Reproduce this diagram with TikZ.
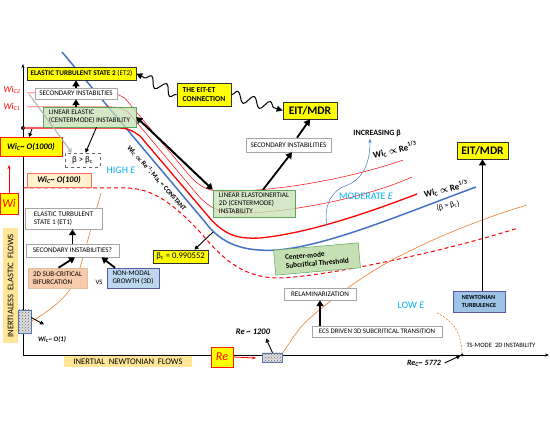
\documentclass[tikz,border=0pt]{standalone}
\usepackage{fontspec}
\setmainfont{Carlito}
\usetikzlibrary{arrows.meta,patterns,decorations.pathmorphing}
\definecolor{ylw}{RGB}{255,255,0}
\definecolor{lightylw}{RGB}{255,242,204}
\definecolor{boxgreen}{RGB}{197,224,180}
\definecolor{boxblue}{RGB}{189,215,238}
\definecolor{boxblue2}{RGB}{157,195,230}
\definecolor{boxpeach}{RGB}{248,203,173}
\definecolor{labelorange}{RGB}{255,230,153}
\definecolor{lineblue}{RGB}{68,114,196}
\definecolor{skyblue}{RGB}{0,176,240}
\definecolor{lineorange}{RGB}{237,125,49}

\begin{document}
\begin{tikzpicture}[x=1pt,y=-1pt,
    box/.style ={draw=gray!80!black, line width=0.5pt, inner sep=1pt, align=left,
                 font=\fontsize{7.1}{7.9}\selectfont},
    plainbox/.style ={box, fill=white, draw=gray!70},
    yellowbox/.style ={box, fill=ylw, draw=gray!40!black, line width=0.7pt},
    greenbox/.style ={box, fill=boxgreen, fill opacity=0.75, text opacity=1, draw=green!30!gray},
    bluebox/.style ={box, fill=boxblue, draw=blue!30!gray},
    redbordered/.style ={box, fill=ylw, draw=red!80!orange, line width=0.7pt},
    flowlabel/.style ={fill=labelorange, inner sep=1pt, font=\fontsize{8.6}{10}\selectfont},
    hatched/.style ={draw=lineblue!70!gray, inner sep=0pt, preaction={fill=gray!25},
                     pattern=crosshatch dots, pattern color=gray!80!black},
    regime/.style ={text=skyblue, font=\fontsize{10}{11}\selectfont},
    scaling/.style ={font=\bfseries\boldmath\fontsize{9}{10}\selectfont},
    bigarrow/.style ={line width=1.8pt, -{Triangle[length=6pt,width=7pt]}},
    smallarrow/.style ={line width=0.9pt, -{Triangle[length=4pt,width=4pt]}},
    wave/.style ={line width=1pt, decorate,
                  decoration={snake, amplitude=5pt, segment length=17pt, post length=6pt},
                  -{Triangle[length=6pt,width=6pt]}}]
   \useasboundingbox (0,0) rectangle (550,425);

   \coordinate (O) at (23,355);
   \coordinate (WI0) at (23,128);
   \coordinate (WC2P) at (29,94);
   \coordinate (WITOP) at (9,165);
   \coordinate (REEND) at (256,358);
   \coordinate (BLUEPT) at (213,232);

   \draw[line width=0.8pt, -{Stealth[length=4pt]}] (O) -- (23,64);
   \draw[line width=0.8pt, -{Stealth[length=4pt]}] (O) -- (549,355);
   \fill (WI0) circle (2pt);

   \draw[lineblue, line width=1.5pt] (62,52) -- (205,222) .. controls (222,245) and (245,252) .. (278,250)
        .. controls (330,245) and (400,215) .. (476,187);
   \draw[red, line width=1.3pt] (WI0) -- (118,128) .. controls (128,128) and (133,131) .. (140,136)
        -- (208,216) .. controls (225,236) and (238,239) .. (260,238) .. controls (310,233) and (370,212) .. (417,194);
   \draw[red, line width=0.5pt] (27,107) -- (112,107) .. controls (120,107) and (123,109) .. (128,112)
        -- (196,193) .. controls (212,212) and (225,214) .. (248,213) .. controls (300,211) and (370,196) .. (412,177);
   \draw[red, line width=0.5pt] (27,93) -- (110,93) .. controls (116,93) and (119,95) .. (124.7,98)
        -- (189,175) .. controls (205,194) and (220,192) .. (242,191) .. controls (300,188) and (360,175) .. (403,160);
   \draw[red, line width=1pt, dash pattern=on 4pt off 3pt] (23,188) -- (125,188) .. controls (150,188) and (170,200) .. (200,232)
        .. controls (225,262) and (245,278) .. (280,278) .. controls (330,276) and (450,250) .. (518,228);
   \draw[lineblue, line width=0.5pt, -{Stealth[length=4pt]}] (327,225) .. controls (323,205) and (333,190) .. (345,186)
        .. controls (362,180) and (370,165) .. (370,139);

   \node[hatched, minimum width=13pt, minimum height=23pt] (WIO1) at (24.5,321.5) {};
   \node[hatched, minimum width=20pt, minimum height=9pt] (RE1200) at (272.5,357.5) {};
   \draw[lineorange, line width=0.6pt] (WIO1.east) .. controls (55,308) and (72,292) .. (78,275) -- (101,193);
   \draw[lineorange, line width=0.6pt] (RE1200.north east) .. controls (292,340) and (298,328) .. (310,318)
        .. controls (340,292) and (365,275) .. (392,260) .. controls (420,245) and (470,222) .. (527,205);
   \draw[lineorange, line width=0.6pt, dash pattern=on 2pt off 1.5pt] (437,313) .. controls (455,322) and (462,335) .. (462,355);

   \node[yellowbox, minimum width=109pt, minimum height=13pt, font=\fontsize{7.2}{8}\selectfont] (ET2) at (81.5,73.5) {\textbf{ELASTIC TURBULENT STATE 2} (ET2)};
   \node[plainbox, minimum width=82pt, minimum height=11pt] (SEC1) at (76,93.5) {SECONDARY INSTABILTIES};
   \node[greenbox, minimum width=93pt, minimum height=20pt] (LINEL) at (89.5,117) {LINEAR ELASTIC\\(CENTERMODE) INSTABILITY};
   \node[box, dashed, fill=white, minimum width=35pt, minimum height=14pt, font=\fontsize{8.8}{9}\selectfont] (BGT) at (82.5,160) {β > β\textsubscript{c}};
   \node[redbordered, minimum width=62pt, minimum height=19pt, font=\bfseries\itshape\fontsize{8.5}{10}\selectfont] (O1000) at (31,147) {Wi\textsubscript{C}\textasciitilde\ O(1000)};
   \node[redbordered, fill=lightylw, draw=red!60, minimum width=64pt, minimum height=14pt, font=\bfseries\itshape\fontsize{8.5}{9}\selectfont] (O100) at (59,180) {Wi\textsubscript{C}\textasciitilde\ O(100)};
   \node[redbordered, minimum width=18pt, minimum height=21pt, text=red, font=\itshape\fontsize{12}{13}\selectfont] (WI) at (9,203.5) {Wi};
   \node[flowlabel, rotate=90, minimum width=115pt, minimum height=15pt] (IEF) at (10.5,286) {INERTIALESS\ \ ELASTIC\ \ FLOWS};
   \node[font=\bfseries\itshape\fontsize{6.8}{7}\selectfont] (WIO1L) at (52,339) {Wi\textsubscript{C}\textasciitilde\ O(1)};
   \node[plainbox, minimum width=77pt, minimum height=21pt] (ET1) at (63.5,218.5) {ELASTIC TURBULENT\\STATE 1 (ET1)};
   \node[plainbox, minimum width=93pt, minimum height=13pt] (SEC2) at (72.5,250.5) {SECONDARY INSTABILITIES?};
   \node[box, fill=boxpeach, draw=brown!50, minimum width=59pt, minimum height=20pt] (SUB2D) at (57.5,278) {2D SUB-CRITICAL\\BIFURCATION};
   \node[font=\fontsize{6.8}{7}\selectfont] (VS) at (99,282) {VS};
   \node[bluebox, minimum width=52pt, minimum height=20pt] (NONMOD) at (133,278) {NON-MODAL\\GROWTH (3D)};
   \node[flowlabel, minimum width=128pt, minimum height=11pt] (INF) at (128,361.5) {INERTIAL\ \ NEWTONIAN\ \ FLOWS};
   \node[redbordered, minimum width=22pt, minimum height=20pt, text=red, font=\itshape\fontsize{12}{13}\selectfont] (RE) at (222,357) {Re};
   \node[font=\bfseries\itshape\fontsize{8.5}{9}\selectfont] (RE1200L) at (253,332) {Re \textasciitilde\ 1200};
   \node[plainbox, minimum width=130pt, minimum height=11pt, font=\fontsize{6.9}{7.5}\selectfont] (ECS) at (377,331.5) {ECS DRIVEN 3D SUBCRITICAL TRANSITION};
   \node[plainbox, minimum width=72pt, minimum height=12pt] (RELAM) at (320,294) {RELAMINARIZATION};
   \node[bluebox, fill=boxblue2, minimum width=52pt, minimum height=21pt, font=\bfseries\fontsize{6.2}{7.2}\selectfont] (NT) at (479,301.5) {NEWTONIAN\\TURBULENCE};
   \node[font=\fontsize{6.6}{7}\selectfont] (TS) at (501,345) {TS-MODE\ \ 2D INSTABILITY};
   \node[font=\bfseries\itshape\fontsize{8}{8.5}\selectfont] (REC) at (424,363) {Re\textsubscript{C}\textasciitilde\ 5772};
   \node[circle, fill, inner sep=0pt, minimum size=3pt] (TSP) at (462,355) {};
   \node[yellowbox, minimum width=51pt, minimum height=17pt, font=\bfseries\fontsize{11.5}{12}\selectfont] (MDR2) at (482.5,150.5) {EIT/MDR};
   \node[yellowbox, minimum width=54pt, minimum height=17pt, font=\bfseries\fontsize{11.5}{12}\selectfont] (MDR1) at (310,110.5) {EIT/MDR};
   \node[yellowbox, minimum width=54pt, minimum height=23pt, font=\bfseries\fontsize{7.6}{9}\selectfont] (EITET) at (204,94.5) {THE EIT-ET\\CONNECTION};
   \node[plainbox, minimum width=85pt, minimum height=14pt] (SEC3) at (288.5,145) {SECONDARY INSTABILITIES};
   \node[greenbox, minimum width=82pt, minimum height=27pt] (LINEI) at (254,203.5) {LINEAR ELASTOINERTIAL\\2D (CENTERMODE)\\INSTABILITY};
   \node[greenbox, fill opacity=1, rotate=5, minimum width=85pt, minimum height=25pt, font=\bfseries\fontsize{7.3}{8.6}\selectfont] (CMST) at (317,259) {Center-mode\\Subcritical Threshold};
   \node[yellowbox, minimum width=55pt, minimum height=13pt, font=\fontsize{8.6}{9}\selectfont] (BETAC) at (180.5,256.5) {β\textsubscript{c} = 0.990552};

   \node[text=red, font=\itshape\fontsize{9}{10}\selectfont] (WC2) at (12,90) {Wi\textsubscript{C2}};
   \node[text=red, font=\itshape\fontsize{9}{10}\selectfont] (WC1) at (12,107) {Wi\textsubscript{C1}};
   \node[regime] (HIGH) at (121,170) {HIGH \textit{E}};
   \node[regime] (MOD) at (366,196) {MODERATE \textit{E}};
   \node[regime] (LOW) at (411,305) {LOW \textit{E}};
   \node[font=\bfseries\fontsize{8}{9}\selectfont] (INCB) at (377,133) {INCREASING β};
   \node[scaling, rotate=13] (SC1) at (395,150) {Wi\textsubscript{C} $\propto$\ Re\textsuperscript{1/3}};
   \node[scaling, rotate=13] (SC2) at (446,189) {Wi\textsubscript{C} $\propto$\ Re\textsuperscript{1/3}};
   \node[rotate=13, font=\fontsize{7.8}{8}\selectfont] (SC2B) at (448,206) {(β = β\textsubscript{c})};
   \node[rotate=-48, font=\bfseries\boldmath\fontsize{6.8}{7}\selectfont] (SC3) at (157,178) {Wi\textsubscript{C} $\propto$ Re\textsuperscript{-1}; Ma\textsubscript{c} = CONSTANT};

   \draw[bigarrow] (LINEL.north -| SEC1.south) -- (SEC1.south);
   \draw[bigarrow] (SEC1.north) -- (SEC1.north |- ET2.south);
   \draw[smallarrow] ([xshift=7pt]LINEL.south) -- ([xshift=3pt]BGT.north);
   \draw[smallarrow] ([xshift=9pt,yshift=-1pt]WI0) -- ([xshift=-2pt]O1000.north);
   \draw[red, line width=0.8pt, -{Stealth[length=4pt]}] (WI.north) -- (WITOP);
   \draw[gray!55, line width=1.2pt, -{Triangle[length=4pt,width=5pt]}] (WC2P) -- ([xshift=7pt]BGT.north west);
   \draw[line width=2pt, {Triangle[length=6pt,width=7pt]}-{Triangle[length=6pt,width=7pt]}] (LINEL.east) -- (LINEI.north west);
   \draw[bigarrow] ([xshift=9pt]LINEI.north) -- ([xshift=3.5pt]SEC3.south);
   \draw[bigarrow] ([xshift=8.5pt]SEC3.north) -- (MDR1.south);
   \draw[smallarrow] (BLUEPT) -- ([xshift=14pt]BETAC.north);
   \draw[bigarrow] (ECS.north -| RELAM.south) -- (RELAM.south);
   \draw[bigarrow] (MDR2.south |- NT.north) -- (MDR2.south);
   \draw[bigarrow] (SEC2.north) -- (SEC2.north |- ET1.south);
   \draw[bigarrow] ([xshift=1pt]SUB2D.north) -- ([xshift=2.5pt]SEC2.south);
   \draw[bigarrow] ([xshift=-18pt]NONMOD.north) -- ([xshift=29pt]SEC2.south);
   \draw[smallarrow] ([yshift=4pt]WIO1.east) -- ([xshift=-8pt,yshift=8pt]WIO1L.north);
   \draw[red, line width=0.8pt, -{Stealth[length=4pt]}] (RE.east) -- (REEND);
   \draw[smallarrow] (RE1200.north) -- ([xshift=13pt]RE1200L.south);
   \draw[smallarrow] (REC.east) -- (TSP);
   \draw[wave] (EITET.west) -- (ET2.east);
   \draw[wave] (EITET.east) -- (MDR1.west);
 \end{tikzpicture}
\end{document}
